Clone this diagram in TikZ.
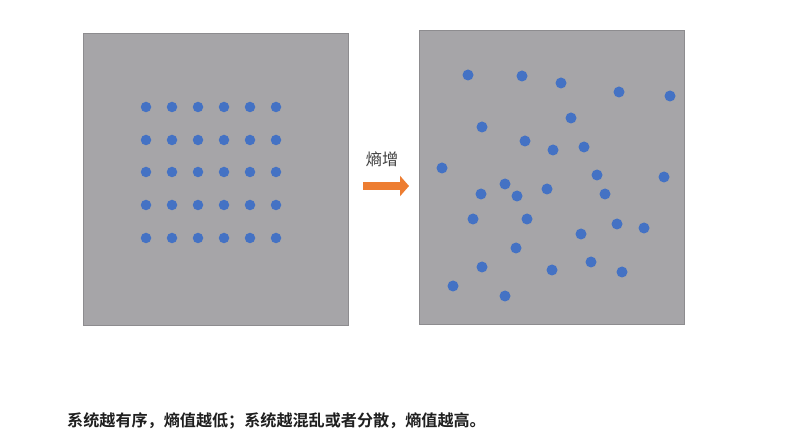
\documentclass[tikz,border=0pt]{standalone}
\usepackage{fontspec}
\usepackage{xcolor}
\usetikzlibrary{arrows.meta}
\newfontfamily\cjk{Noto Sans CJK SC}
\newfontfamily\cjkbold{Noto Sans CJK SC Bold}

\definecolor{panelgray}{RGB}{166,165,168}
\definecolor{dotblue}{RGB}{68,114,196}
\definecolor{arroworange}{RGB}{237,125,49}

\tikzset{
  panel/.style={rectangle,fill=panelgray,draw=panelgray!85!black,line width=0.4pt,inner sep=0pt},
  dot/.style={circle,fill=dotblue,inner sep=0pt,minimum size=11pt},
}

\begin{document}
\begin{tikzpicture}[x=1pt,y=-1pt]
\useasboundingbox[fill=white] (0,0) rectangle (798,446);

\node[panel,minimum width=265pt,minimum height=292pt] (left) at (215.5,179) {};
\node[panel,minimum width=265pt,minimum height=294pt] (right) at (551.5,177) {};

% 有序
\foreach \c/\x in {1/146,2/172,3/198,4/224,5/250,6/276}
  \foreach \r/\y in {1/107,2/140,3/172,4/205,5/238}
    \node[dot,minimum size=10.5pt] (g\r\c) at (\x,\y) {};

% 无序
\node[dot] (d1) at (468,75) {};
\node[dot] (d2) at (522,76) {};
\node[dot] (d3) at (561,83) {};
\node[dot] (d4) at (619,92) {};
\node[dot] (d5) at (670,96) {};
\node[dot] (d6) at (571,118) {};
\node[dot] (d7) at (482,127) {};
\node[dot] (d8) at (525,141) {};
\node[dot] (d9) at (553,150) {};
\node[dot] (d10) at (584,147) {};
\node[dot] (d11) at (442,168) {};
\node[dot] (d12) at (597,175) {};
\node[dot] (d13) at (664,177) {};
\node[dot] (d14) at (505,184) {};
\node[dot] (d15) at (481,194) {};
\node[dot] (d16) at (517,196) {};
\node[dot] (d17) at (547,189) {};
\node[dot] (d18) at (605,194) {};
\node[dot] (d19) at (473,219) {};
\node[dot] (d20) at (527,219) {};
\node[dot] (d21) at (617,224) {};
\node[dot] (d22) at (644,228) {};
\node[dot] (d23) at (581,234) {};
\node[dot] (d24) at (516,248) {};
\node[dot] (d25) at (482,267) {};
\node[dot] (d26) at (552,270) {};
\node[dot] (d27) at (591,262) {};
\node[dot] (d28) at (622,272) {};
\node[dot] (d29) at (453,286) {};
\node[dot] (d30) at (505,296) {};

% 箭头
\coordinate (a0) at (363,186);
\coordinate (a1) at (409,186);
\draw[arroworange,line width=8.5pt,-{Triangle[length=9pt,width=20pt]}] (a0) -- (a1);
\node[font=\cjk\fontsize{16.2}{19}\selectfont,text=black!75] (lbl) at (382,159) {熵增};

% 说明
\node[anchor=west,inner sep=0pt,font=\cjkbold\fontsize{16.1}{18}\selectfont,text=black!88] (cap) at (67,421) {系统越有序，熵值越低；系统越混乱或者分散，熵值越高。};

\end{tikzpicture}
\end{document}
